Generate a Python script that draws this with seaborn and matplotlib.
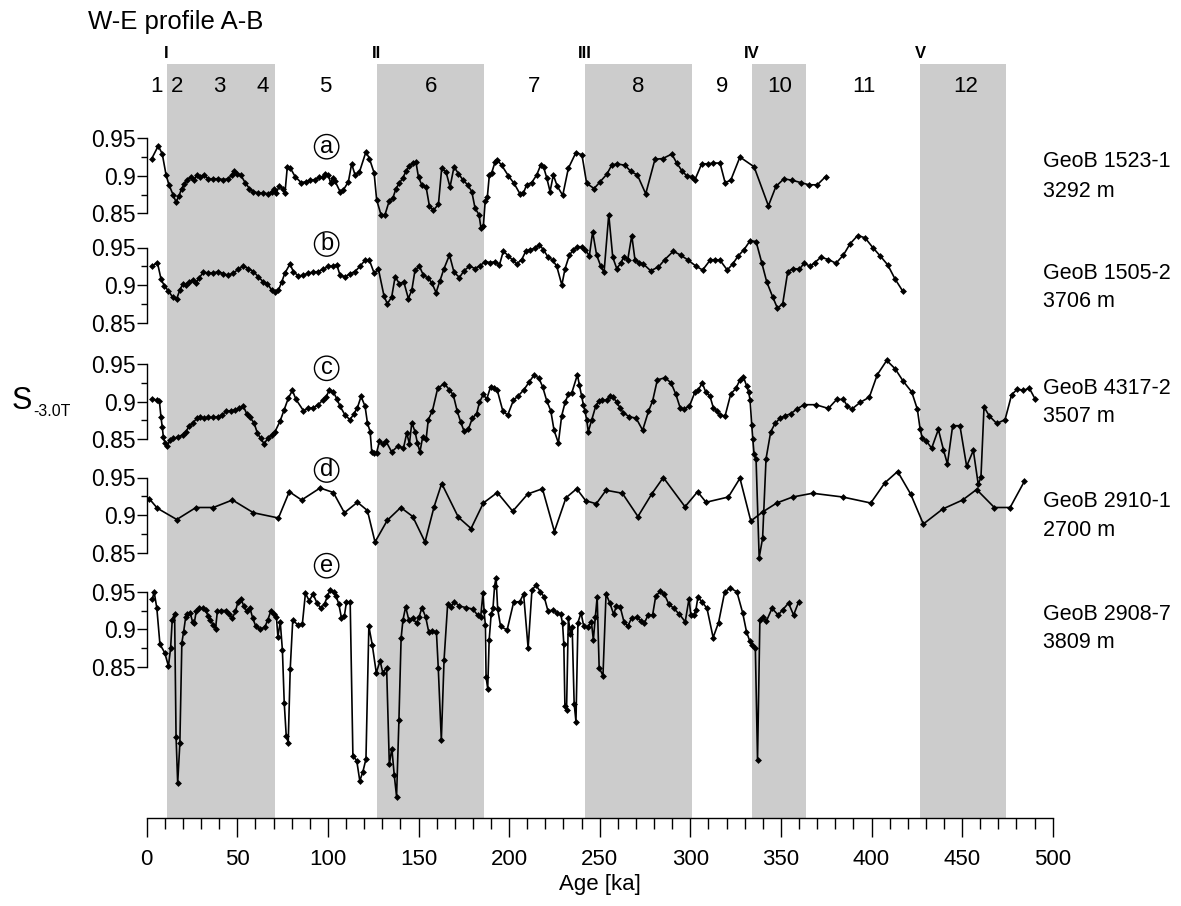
import matplotlib
matplotlib.use("Agg")
import matplotlib.pyplot as plt
import seaborn as sns
from matplotlib.ticker import MultipleLocator, FixedLocator

# ---------------- data ----------------
bands = [(11, 71), (127, 186), (242, 301), (334, 364), (427, 474)]
terminations = ["I", "II", "III", "IV", "V"]
stage_labels = ["1", "2", "3", "4", "5", "6", "7", "8", "9", "10", "11", "12"]
stage_pos = [5.2, 16.6, 40, 63.8, 98.7, 156.8, 214, 271.5, 317.6, 349.3, 395.8, 451.9]
core_names = ["GeoB 1523-1", "GeoB 1505-2", "GeoB 4317-2", "GeoB 2910-1", "GeoB 2908-7"]
core_depths = ["3292 m", "3706 m", "3507 m", "2700 m", "3809 m"]
letters = ["a", "b", "c", "d", "e"]

age_a = [2.8, 6.4, 8.6, 10.7, 12.3, 14.7, 16.2, 17.8, 19.3, 20.8, 22.4, 24.3, 26.3, 27.6, 29.4, 31.6, 34.0, 36.8, 39.6, 42.3, 45.0, 46.9, 48.4, 50.0, 51.9, 54.3, 56.7, 58.9, 61.6, 64.4, 67.1, 69.0, 70.3, 71.4, 73.2, 75.1, 76.3, 77.6, 79.1, 81.9, 85.2, 87.9, 90.1, 92.9, 95.3, 97.1, 98.4, 100.3, 101.5, 102.6, 103.9, 106.7, 108.5, 111.3, 113.1, 115.0, 117.4, 121.0, 122.9, 125.5, 126.9, 129.3, 131.5, 133.9, 135.8, 137.6, 139.4, 141.3, 143.1, 145.0, 146.8, 148.6, 150.0, 151.8, 154.2, 156.0, 158.2, 161.0, 162.8, 165.2, 167.4, 169.6, 172.0, 174.7, 177.1, 179.4, 181.2, 183.4, 184.5, 185.8, 186.8, 188.0, 189.1, 190.4, 192.2, 193.5, 195.9, 199.6, 202.7, 206.0, 207.9, 209.7, 212.5, 215.2, 217.4, 219.0, 220.8, 222.6, 224.4, 226.6, 229.6, 232.7, 236.9, 240.2, 242.8, 246.9, 250.2, 253.9, 256.6, 259.4, 264.0, 267.1, 270.8, 275.4, 280.5, 284.8, 289.8, 292.5, 295.3, 298.0, 300.8, 302.6, 306.3, 310.0, 312.7, 316.4, 319.2, 322.3, 327.4, 335.2, 343.1, 347.3, 351.7, 356.3, 360.9, 365.5, 370.1, 374.7]
val_a = [0.923, 0.940, 0.929, 0.901, 0.888, 0.874, 0.865, 0.873, 0.883, 0.889, 0.895, 0.898, 0.895, 0.901, 0.899, 0.901, 0.896, 0.896, 0.896, 0.895, 0.896, 0.901, 0.907, 0.903, 0.901, 0.891, 0.883, 0.879, 0.877, 0.877, 0.876, 0.879, 0.882, 0.877, 0.886, 0.883, 0.877, 0.912, 0.911, 0.899, 0.891, 0.892, 0.894, 0.895, 0.898, 0.898, 0.903, 0.901, 0.890, 0.897, 0.893, 0.879, 0.881, 0.892, 0.916, 0.901, 0.905, 0.932, 0.923, 0.904, 0.868, 0.848, 0.848, 0.867, 0.870, 0.883, 0.890, 0.897, 0.906, 0.913, 0.917, 0.918, 0.898, 0.888, 0.885, 0.860, 0.854, 0.862, 0.910, 0.905, 0.885, 0.912, 0.903, 0.894, 0.888, 0.879, 0.857, 0.848, 0.830, 0.833, 0.866, 0.872, 0.901, 0.904, 0.918, 0.921, 0.914, 0.900, 0.890, 0.876, 0.877, 0.888, 0.891, 0.901, 0.914, 0.912, 0.897, 0.879, 0.901, 0.886, 0.874, 0.910, 0.931, 0.928, 0.890, 0.883, 0.892, 0.902, 0.914, 0.916, 0.914, 0.906, 0.901, 0.876, 0.922, 0.923, 0.929, 0.917, 0.907, 0.900, 0.899, 0.895, 0.916, 0.916, 0.917, 0.917, 0.891, 0.894, 0.925, 0.912, 0.860, 0.886, 0.896, 0.894, 0.891, 0.888, 0.888, 0.899]

age_b = [2.8, 5.9, 7.9, 9.7, 12.0, 14.3, 16.6, 18.4, 19.9, 21.7, 23.5, 25.4, 27.2, 29.1, 31.3, 34.0, 36.8, 39.6, 42.3, 45.0, 47.8, 50.6, 53.3, 56.1, 58.9, 61.6, 64.4, 66.6, 69.0, 70.8, 72.7, 74.5, 76.3, 79.1, 80.9, 83.7, 86.5, 89.2, 92.0, 94.7, 97.5, 100.3, 103.0, 104.9, 106.7, 109.5, 112.2, 115.0, 117.7, 120.5, 122.9, 125.5, 127.9, 131.0, 132.8, 135.2, 137.1, 139.4, 141.9, 144.4, 146.3, 148.1, 150.5, 152.7, 155.4, 157.3, 159.7, 161.9, 164.1, 167.1, 169.6, 172.6, 175.1, 178.1, 181.2, 184.0, 186.8, 189.5, 192.3, 194.7, 196.8, 199.6, 202.0, 204.2, 207.0, 209.2, 211.6, 214.3, 216.7, 218.9, 221.3, 224.1, 226.3, 229.1, 230.9, 233.3, 235.5, 237.7, 240.1, 241.9, 244.3, 246.1, 248.3, 250.6, 252.4, 255.0, 257.2, 259.4, 261.6, 263.4, 265.5, 267.7, 269.5, 271.9, 274.1, 278.1, 282.4, 286.0, 290.6, 294.6, 298.9, 303.2, 306.8, 310.9, 313.6, 316.4, 320.4, 323.4, 326.5, 329.6, 333.0, 336.3, 339.4, 342.2, 345.5, 348.1, 351.0, 353.8, 356.9, 360.2, 362.8, 366.1, 368.8, 372.0, 376.2, 380.4, 384.5, 388.2, 392.4, 396.4, 400.7, 404.7, 408.9, 413.0, 417.2]
val_b = [0.925, 0.930, 0.908, 0.899, 0.892, 0.884, 0.882, 0.894, 0.901, 0.900, 0.904, 0.907, 0.903, 0.910, 0.917, 0.916, 0.916, 0.918, 0.915, 0.913, 0.916, 0.921, 0.925, 0.922, 0.918, 0.911, 0.904, 0.902, 0.893, 0.891, 0.893, 0.904, 0.916, 0.928, 0.918, 0.912, 0.913, 0.916, 0.917, 0.918, 0.921, 0.925, 0.925, 0.927, 0.913, 0.911, 0.915, 0.918, 0.925, 0.933, 0.933, 0.916, 0.921, 0.885, 0.875, 0.884, 0.911, 0.902, 0.904, 0.882, 0.893, 0.920, 0.925, 0.913, 0.909, 0.903, 0.890, 0.906, 0.922, 0.940, 0.917, 0.910, 0.919, 0.925, 0.922, 0.926, 0.931, 0.930, 0.931, 0.927, 0.945, 0.939, 0.933, 0.928, 0.934, 0.945, 0.947, 0.949, 0.954, 0.947, 0.938, 0.933, 0.925, 0.900, 0.922, 0.940, 0.947, 0.951, 0.951, 0.947, 0.939, 0.971, 0.940, 0.925, 0.917, 0.994, 0.937, 0.922, 0.929, 0.938, 0.934, 0.966, 0.933, 0.930, 0.928, 0.919, 0.924, 0.934, 0.945, 0.940, 0.933, 0.925, 0.920, 0.933, 0.934, 0.933, 0.920, 0.928, 0.939, 0.947, 0.959, 0.958, 0.930, 0.904, 0.884, 0.869, 0.875, 0.918, 0.922, 0.921, 0.929, 0.925, 0.930, 0.937, 0.934, 0.929, 0.940, 0.955, 0.966, 0.963, 0.950, 0.939, 0.927, 0.908, 0.892]

age_c = [2.8, 5.5, 7.0, 7.9, 8.6, 9.2, 10.1, 11.4, 12.9, 14.7, 17.5, 19.9, 21.7, 23.5, 25.4, 27.6, 29.4, 31.6, 34.0, 36.8, 39.6, 41.4, 43.8, 46.4, 48.7, 51.1, 53.3, 55.2, 57.0, 59.2, 61.1, 62.9, 64.8, 67.1, 69.0, 70.8, 73.6, 75.8, 78.2, 80.4, 82.4, 86.5, 89.2, 92.0, 94.7, 97.1, 99.0, 100.8, 103.0, 104.9, 106.7, 109.5, 112.2, 114.4, 116.3, 118.3, 120.5, 121.8, 123.3, 124.2, 125.5, 126.9, 128.4, 130.2, 132.1, 135.2, 138.7, 141.7, 143.5, 145.0, 146.3, 148.1, 149.4, 150.8, 152.3, 154.2, 155.4, 157.7, 160.6, 164.3, 167.0, 169.2, 171.4, 173.3, 175.1, 177.5, 179.7, 182.1, 183.6, 185.8, 187.6, 189.8, 191.7, 193.5, 196.5, 199.2, 202.4, 205.1, 208.2, 211.0, 213.9, 216.5, 218.5, 220.8, 223.0, 224.8, 227.2, 229.0, 230.9, 232.7, 234.5, 237.7, 238.8, 240.1, 241.0, 241.9, 242.8, 243.7, 245.6, 247.8, 249.6, 251.5, 253.9, 255.7, 257.5, 259.4, 261.2, 263.0, 266.4, 270.1, 273.7, 276.9, 279.2, 281.8, 286.1, 289.4, 292.0, 294.4, 296.5, 299.5, 302.6, 304.5, 306.6, 308.5, 310.9, 312.7, 314.6, 316.4, 319.2, 322.3, 325.2, 327.4, 329.3, 331.1, 332.2, 333.0, 333.9, 334.5, 335.2, 336.3, 338.0, 339.9, 341.8, 344.4, 346.8, 349.5, 352.3, 355.4, 358.7, 362.8, 369.2, 376.2, 380.8, 384.5, 386.7, 389.1, 393.7, 398.8, 403.2, 408.4, 413.0, 417.6, 422.2, 425.3, 426.8, 428.1, 430.1, 433.2, 436.9, 439.7, 441.9, 444.8, 448.8, 452.5, 456.2, 458.9, 460.4, 462.1, 465.0, 469.1, 473.7, 477.3, 480.5, 483.8, 487.1, 490.2]
val_c = [0.904, 0.902, 0.901, 0.879, 0.866, 0.853, 0.845, 0.841, 0.849, 0.851, 0.853, 0.856, 0.860, 0.868, 0.871, 0.878, 0.880, 0.878, 0.879, 0.879, 0.880, 0.882, 0.887, 0.888, 0.889, 0.891, 0.894, 0.884, 0.879, 0.872, 0.858, 0.851, 0.844, 0.852, 0.856, 0.860, 0.874, 0.889, 0.905, 0.915, 0.903, 0.888, 0.891, 0.892, 0.896, 0.902, 0.906, 0.916, 0.913, 0.904, 0.894, 0.882, 0.876, 0.884, 0.892, 0.907, 0.894, 0.872, 0.860, 0.833, 0.832, 0.832, 0.847, 0.844, 0.847, 0.833, 0.841, 0.838, 0.858, 0.844, 0.872, 0.860, 0.845, 0.833, 0.853, 0.850, 0.876, 0.888, 0.918, 0.924, 0.916, 0.909, 0.887, 0.873, 0.861, 0.863, 0.878, 0.884, 0.899, 0.910, 0.903, 0.920, 0.918, 0.915, 0.888, 0.882, 0.902, 0.908, 0.916, 0.926, 0.936, 0.931, 0.920, 0.901, 0.888, 0.862, 0.845, 0.881, 0.899, 0.910, 0.911, 0.936, 0.922, 0.907, 0.896, 0.887, 0.876, 0.860, 0.876, 0.894, 0.901, 0.902, 0.902, 0.908, 0.906, 0.899, 0.892, 0.885, 0.880, 0.878, 0.862, 0.887, 0.901, 0.929, 0.932, 0.925, 0.910, 0.892, 0.890, 0.894, 0.913, 0.916, 0.925, 0.913, 0.907, 0.892, 0.888, 0.882, 0.881, 0.910, 0.918, 0.929, 0.933, 0.921, 0.913, 0.902, 0.869, 0.850, 0.830, 0.823, 0.692, 0.718, 0.824, 0.860, 0.871, 0.878, 0.881, 0.884, 0.890, 0.896, 0.896, 0.891, 0.903, 0.903, 0.894, 0.890, 0.899, 0.906, 0.936, 0.955, 0.944, 0.927, 0.913, 0.890, 0.864, 0.851, 0.848, 0.838, 0.863, 0.836, 0.817, 0.868, 0.868, 0.814, 0.835, 0.790, 0.799, 0.893, 0.881, 0.871, 0.876, 0.909, 0.917, 0.915, 0.918, 0.904]

age_d = [1.3, 5.9, 16.6, 27.2, 36.8, 47.3, 58.9, 72.7, 78.7, 85.5, 95.7, 103.0, 109.1, 116.3, 121.8, 126.0, 132.8, 140.2, 146.8, 153.6, 158.6, 162.8, 172.0, 179.0, 185.8, 193.5, 202.0, 210.3, 218.4, 225.0, 231.4, 237.3, 242.3, 248.1, 253.5, 262.5, 271.1, 278.7, 285.1, 297.1, 304.0, 308.7, 321.0, 327.4, 333.4, 339.9, 347.7, 356.5, 367.5, 384.1, 399.6, 407.4, 414.4, 421.6, 428.6, 439.3, 450.3, 458.0, 467.8, 476.5, 484.4]
val_d = [0.922, 0.909, 0.894, 0.910, 0.910, 0.920, 0.903, 0.896, 0.931, 0.920, 0.936, 0.930, 0.903, 0.917, 0.906, 0.864, 0.893, 0.910, 0.898, 0.864, 0.911, 0.942, 0.897, 0.882, 0.916, 0.930, 0.905, 0.928, 0.935, 0.878, 0.923, 0.935, 0.919, 0.915, 0.933, 0.929, 0.898, 0.928, 0.950, 0.911, 0.931, 0.917, 0.924, 0.949, 0.892, 0.904, 0.916, 0.924, 0.929, 0.924, 0.916, 0.943, 0.958, 0.928, 0.888, 0.908, 0.920, 0.934, 0.910, 0.910, 0.945]

age_e = [3.1, 4.1, 5.6, 7.3, 9.9, 12.0, 13.2, 14.1, 15.4, 16.2, 17.1, 18.3, 19.4, 20.4, 21.5, 22.5, 24.0, 25.3, 26.3, 27.4, 28.9, 31.0, 32.5, 33.8, 35.2, 36.5, 38.0, 39.0, 41.1, 43.7, 45.4, 47.3, 49.0, 50.4, 52.1, 53.6, 55.3, 57.0, 58.5, 60.2, 62.6, 65.2, 66.9, 68.6, 70.1, 71.6, 72.4, 73.7, 74.9, 75.9, 77.0, 78.1, 79.2, 80.6, 83.4, 85.9, 87.6, 89.7, 91.8, 94.0, 96.1, 98.2, 99.7, 101.2, 103.3, 104.5, 106.0, 107.5, 109.1, 110.2, 112.3, 113.8, 115.9, 117.6, 119.3, 121.0, 122.6, 124.5, 126.7, 128.8, 130.3, 132.4, 133.9, 135.3, 136.6, 137.9, 139.2, 140.4, 141.4, 142.9, 144.6, 146.7, 148.9, 150.4, 151.9, 154.0, 155.6, 157.7, 159.9, 160.9, 162.6, 164.1, 166.1, 167.9, 169.8, 172.5, 176.3, 179.9, 182.6, 184.3, 185.6, 186.2, 186.9, 187.3, 188.2, 189.0, 190.1, 191.1, 192.0, 192.8, 193.7, 195.3, 198.9, 202.5, 205.9, 208.0, 210.5, 212.6, 214.8, 217.3, 219.4, 221.5, 224.3, 226.4, 228.5, 229.5, 230.2, 230.8, 231.7, 232.7, 233.8, 234.8, 235.9, 236.9, 238.0, 239.7, 241.2, 243.3, 245.4, 246.5, 247.6, 248.6, 249.7, 251.8, 253.5, 255.6, 257.7, 259.2, 261.3, 263.4, 265.5, 267.6, 270.4, 272.9, 274.6, 276.7, 279.2, 280.9, 283.5, 285.6, 288.1, 290.8, 294.0, 297.2, 299.3, 300.3, 302.0, 303.1, 304.2, 306.3, 309.2, 312.6, 315.6, 319.0, 322.1, 325.7, 328.9, 331.0, 332.7, 334.2, 335.9, 337.1, 338.4, 340.1, 342.0, 345.1, 348.5, 351.0, 354.2, 357.0, 359.9]
val_e = [0.940, 0.950, 0.928, 0.880, 0.869, 0.851, 0.875, 0.913, 0.921, 0.757, 0.695, 0.748, 0.882, 0.897, 0.916, 0.921, 0.922, 0.910, 0.909, 0.925, 0.929, 0.928, 0.926, 0.918, 0.913, 0.906, 0.901, 0.924, 0.925, 0.925, 0.920, 0.915, 0.924, 0.937, 0.940, 0.931, 0.924, 0.928, 0.915, 0.904, 0.900, 0.903, 0.913, 0.925, 0.920, 0.916, 0.890, 0.910, 0.872, 0.802, 0.758, 0.749, 0.847, 0.912, 0.906, 0.907, 0.948, 0.938, 0.947, 0.935, 0.928, 0.934, 0.944, 0.952, 0.950, 0.944, 0.934, 0.915, 0.918, 0.936, 0.936, 0.731, 0.725, 0.698, 0.710, 0.727, 0.904, 0.879, 0.842, 0.858, 0.842, 0.849, 0.720, 0.741, 0.706, 0.677, 0.779, 0.888, 0.912, 0.930, 0.913, 0.915, 0.908, 0.917, 0.929, 0.916, 0.897, 0.898, 0.896, 0.849, 0.752, 0.859, 0.934, 0.930, 0.937, 0.931, 0.929, 0.927, 0.919, 0.916, 0.949, 0.924, 0.906, 0.836, 0.821, 0.886, 0.920, 0.928, 0.958, 0.969, 0.927, 0.904, 0.899, 0.936, 0.937, 0.947, 0.875, 0.952, 0.959, 0.950, 0.943, 0.924, 0.926, 0.922, 0.920, 0.908, 0.880, 0.798, 0.792, 0.915, 0.894, 0.903, 0.801, 0.777, 0.909, 0.922, 0.904, 0.903, 0.910, 0.886, 0.917, 0.943, 0.849, 0.838, 0.947, 0.935, 0.920, 0.931, 0.930, 0.910, 0.904, 0.915, 0.916, 0.911, 0.908, 0.919, 0.919, 0.944, 0.951, 0.947, 0.934, 0.928, 0.920, 0.910, 0.941, 0.919, 0.919, 0.926, 0.943, 0.937, 0.928, 0.889, 0.909, 0.950, 0.955, 0.950, 0.922, 0.897, 0.885, 0.879, 0.875, 0.726, 0.912, 0.916, 0.911, 0.928, 0.919, 0.926, 0.935, 0.919, 0.937]

series_ages = [age_a, age_b, age_c, age_d, age_e]
series_vals = [val_a, val_b, val_c, val_d, val_e]

# ---------------- layout (pixels) ----------------
W, H = 1181, 906
X0, X1 = 146.7, 1052.7          # age 0 and age 500
YT, YB = 64.0, 818.0            # top of shading, x-axis line
PX_PER_UNIT = 750.0
P09 = [175.8, 285.0, 401.7, 515.0, 629.3]   # pixel row of 0.9 for each core
LABEL_Y = [(161.7, 191.7), (273.3, 301.7), (388.3, 416.7), (501.7, 530.0), (615.0, 643.0)]
LETTER_Y = [146.7, 244.0, 368.3, 470.0, 565.7]

sns.set_theme(style="ticks")
plt.rcParams["font.family"] = ["Liberation Sans", "DejaVu Sans"]
plt.rcParams["axes.linewidth"] = 1.0
plt.rcParams["text.color"] = "black"
plt.rcParams["axes.labelcolor"] = "black"
plt.rcParams["xtick.color"] = "black"
plt.rcParams["ytick.color"] = "black"
plt.rcParams["axes.edgecolor"] = "black"

fig = plt.figure(figsize=(W / 100, H / 100), dpi=100)
rect = [X0 / W, 1 - YB / H, (X1 - X0) / W, (YB - YT) / H]

def fx(px):
    return px / W

def fy(py):
    return 1 - py / H

# background axes: shading + age axis
ax0 = fig.add_axes(rect)
ax0.set_xlim(0, 500)
ax0.set_ylim(0, 1)
for lo, hi in bands:
    ax0.axvspan(lo, hi, color="#cccccc", lw=0, zorder=0)
for s in ["top", "right", "left"]:
    ax0.spines[s].set_visible(False)
ax0.spines["bottom"].set_color("black")
ax0.spines["bottom"].set_linewidth(1.0)
ax0.set_yticks([])
ax0.xaxis.set_major_locator(MultipleLocator(50))
ax0.xaxis.set_minor_locator(MultipleLocator(10))
ax0.tick_params(axis="x", which="major", direction="out", length=14, width=1.0,
                color="black", labelsize=16, pad=8, labelcolor="black")
ax0.tick_params(axis="x", which="minor", direction="out", length=8, width=1.0, color="black")
ax0.set_xlabel("Age [ka]", fontsize=16, labelpad=3, color="black")

# stage numbers and terminations
for lab, pos in zip(stage_labels, stage_pos):
    fig.text(fx(X0 + pos * (X1 - X0) / 500), fy(86), lab, ha="center", va="center",
             fontsize=16, color="black")
for lab, (lo, hi) in zip(terminations, bands):
    fig.text(fx(X0 + lo * (X1 - X0) / 500), fy(53), lab, ha="center", va="center",
             fontsize=12, fontweight="bold", color="black")
fig.text(fx(88), fy(22), "W-E profile A-B", ha="left", va="center", fontsize=18.5, color="black")

# y label
fig.text(fx(22), fy(401), "S", ha="center", va="center", fontsize=22, color="black")
fig.text(fx(33), fy(412), "-3.0T", ha="left", va="center", fontsize=11.5, color="black")

# one axes per core
for i in range(5):
    ax = fig.add_axes(rect, facecolor="none", zorder=2 + i)
    ybot = 0.9 - (YB - P09[i]) / PX_PER_UNIT
    ytop = 0.9 + (P09[i] - YT) / PX_PER_UNIT
    sns.lineplot(x=series_ages[i], y=series_vals[i], ax=ax, color="black", lw=1.2,
                 marker="D", markersize=3.5, markeredgewidth=0, estimator=None, sort=False)
    ax.set_xlim(0, 500)
    ax.set_ylim(ybot, ytop)
    for s in ["top", "right", "bottom"]:
        ax.spines[s].set_visible(False)
    ax.spines["left"].set_bounds(0.85, 0.95)
    ax.spines["left"].set_color("black")
    ax.set_yticks([0.85, 0.9, 0.95])
    ax.set_yticklabels(["0.85", "0.9", "0.95"])
    ax.yaxis.set_minor_locator(FixedLocator([0.875, 0.925]))
    ax.tick_params(axis="y", which="major", direction="out", length=7, width=1.0,
                   color="black", labelsize=16.5, pad=1, labelcolor="black")
    ax.tick_params(axis="y", which="minor", direction="out", length=4, width=1.0, color="black")
    ax.tick_params(axis="x", bottom=False, labelbottom=False)
    ax.set_xlabel("")
    ax.set_ylabel("")
    # circled letter
    ax.text(99.3, 0.9 + (P09[i] - LETTER_Y[i]) / PX_PER_UNIT, letters[i], ha="center", va="center",
            fontsize=17, color="black",
            bbox=dict(boxstyle="circle,pad=0.05", fc="none", ec="black", lw=1.0))
    # core labels
    fig.text(fx(1042.7), fy(LABEL_Y[i][0]), core_names[i], ha="left", va="center",
             fontsize=15.5, color="black")
    fig.text(fx(1042.7), fy(LABEL_Y[i][1]), core_depths[i], ha="left", va="center",
             fontsize=15.5, color="black")

fig.savefig("out.png", dpi=100)
